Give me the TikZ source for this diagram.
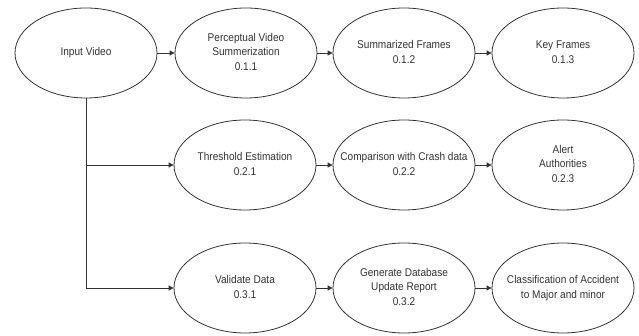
\documentclass[tikz,border=0pt]{standalone}
\usepackage{fontspec}
\setmainfont{Liberation Sans}[FakeStretch=0.9]
\usetikzlibrary{shapes.geometric,arrows.meta}
\newcommand\ctxt[1]{\makebox[0pt]{\begin{tabular}{@{}c@{}}#1\end{tabular}}}
\tikzset{
  proc/.style={ellipse,draw=black!80,line width=0.8pt,minimum width=142pt,minimum height=90pt,inner sep=0pt,font=\fontsize{11.2}{14.5}\selectfont,text=black!80},
  conn/.style={draw=black!80,line width=0.8pt,-{Triangle[length=5pt,width=5pt]}},
  line/.style={draw=black!80,line width=0.8pt}
}
\begin{document}
\begin{tikzpicture}[x=1pt,y=-1pt]
\useasboundingbox (0,0) rectangle (639,336);
\node[proc] (iv) at (86,53) {\ctxt{Input Video}};
\node[proc] (p11) at (246,53) {\ctxt{Perceptual Video\\Summerization\\0.1.1}};
\node[proc] (p12) at (404,53) {\ctxt{Summarized Frames\\0.1.2}};
\node[proc] (p13) at (563,53) {\ctxt{Key Frames\\0.1.3}};
\node[proc] (p21) at (245,165) {\ctxt{Threshold Estimation\\0.2.1}};
\node[proc] (p22) at (404,165) {\ctxt{Comparison with Crash data\\0.2.2}};
\node[proc] (p23) at (563,165) {\ctxt{Alert\\Authorities\\0.2.3}};
\node[proc] (p31) at (245,288) {\ctxt{Validate Data\\0.3.1}};
\node[proc] (p32) at (404,288) {\ctxt{Generate Database\\Update Report\\0.3.2}};
\node[proc] (p33) at (563,288) {\ctxt{Classification of Accident\\to Major and minor}};
\coordinate (br) at (iv.south |- p21.west);
\draw[conn] (iv) -- (p11);
\draw[conn] (p11) -- (p12);
\draw[conn] (p12) -- (p13);
\draw[conn] (p21) -- (p22);
\draw[conn] (p22) -- (p23);
\draw[conn] (p31) -- (p32);
\draw[conn] (p32) -- (p33);
\draw[line] (iv.south) -- (br);
\draw[conn] (br) -- (p21.west);
\draw[conn] (br) |- (p31.west);
\end{tikzpicture}
\end{document}
